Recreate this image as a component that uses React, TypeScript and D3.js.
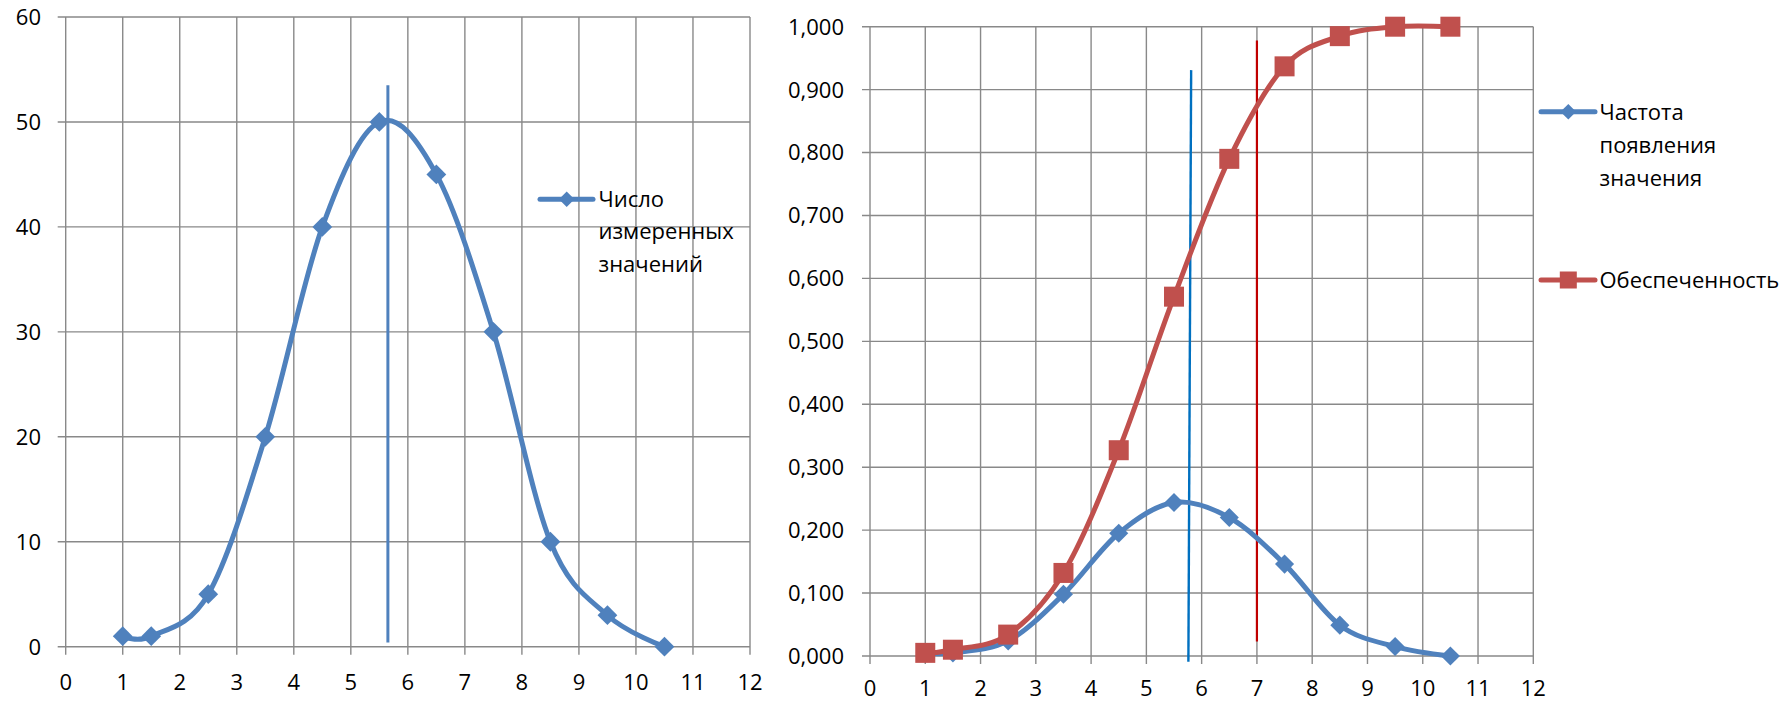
import React, { useEffect, useRef } from 'react';
import * as d3 from 'd3';

// Середины интервалов
const xValues = [1, 1.5, 2.5, 3.5, 4.5, 5.5, 6.5, 7.5, 8.5, 9.5, 10.5];
// Число измеренных значений
const counts = [1, 1, 5, 20, 40, 50, 45, 30, 10, 3, 0];
// Частота появления значения
const frequency = [0.005, 0.005, 0.024, 0.098, 0.195, 0.244, 0.220, 0.146, 0.049, 0.015, 0.000];
// Обеспеченность
const supply = [0.005, 0.010, 0.034, 0.132, 0.327, 0.571, 0.790, 0.937, 0.985, 1.000, 1.000];

const xTicks = [0, 1, 2, 3, 4, 5, 6, 7, 8, 9, 10, 11, 12];
const leftYTicks = [0, 10, 20, 30, 40, 50, 60];
const rightYTicks = [0, 0.1, 0.2, 0.3, 0.4, 0.5, 0.6, 0.7, 0.8, 0.9, 1.0];

// вертикальные отметки: [x, yFrom, yTo]
const leftMark = [5.65, 0.4, 53.5];
const rightBlueMark = [[5.81, 0.931], [5.76, -0.009]];
const rightRedMark = [7.0, 0.023, 0.978];

const leftLegend = ['Число', 'измеренных', 'значений'];
const rightLegend1 = ['Частота', 'появления', 'значения'];
const rightLegend2 = ['Обеспеченность'];

const BLUE = '#4F81BD';
const RED = '#C0504D';
const GRID = '#898989';
const FONT = '"Open Sans", sans-serif';

const App: React.FC = () => {
  const ref = useRef<SVGSVGElement>(null);

  useEffect(() => {
    const svg = d3.select(ref.current);
    svg.selectAll('*').remove();

    const commaFmt = d3.formatLocale({ decimal: ',', thousands: ' ', grouping: [3], currency: ['', ''] }).format('.3f');

    const diamond = (g: any, cx: number, cy: number, side: number, color: string) => {
      g.append('rect')
        .attr('x', -side / 2).attr('y', -side / 2)
        .attr('width', side).attr('height', side)
        .attr('fill', color)
        .attr('transform', `translate(${cx},${cy}) rotate(45)`);
    };
    const square = (g: any, cx: number, cy: number, side: number, color: string) => {
      g.append('rect')
        .attr('x', cx - side / 2).attr('y', cy - side / 2)
        .attr('width', side).attr('height', side)
        .attr('fill', color);
    };

    const drawFrame = (x: any, y: any, yTicks: number[], fmt: (v: number) => string, labelRight: number, labelOffset: number) => {
      const g = svg.append('g');
      const [x0, x1] = x.range();
      const [y0, y1] = y.range();
      // сетка
      g.selectAll('.vg').data(xTicks).enter().append('line')
        .attr('x1', d => x(d)).attr('x2', d => x(d))
        .attr('y1', y1).attr('y2', y0 + 8)
        .attr('stroke', GRID).attr('stroke-width', 1.4);
      g.selectAll('.hg').data(yTicks).enter().append('line')
        .attr('x1', x0 - 8).attr('x2', x1)
        .attr('y1', d => y(d)).attr('y2', d => y(d))
        .attr('stroke', GRID).attr('stroke-width', 1.4);
      // подписи
      g.selectAll('.yl').data(yTicks).enter().append('text')
        .attr('x', labelRight).attr('y', d => y(d)).attr('dy', '0.36em')
        .attr('text-anchor', 'end')
        .style('font-family', FONT).style('font-size', '22px').attr('fill', '#000')
        .text(d => fmt(d));
      g.selectAll('.xl').data(xTicks).enter().append('text')
        .attr('x', d => x(d)).attr('y', y0 + labelOffset).attr('dy', '0.36em')
        .attr('text-anchor', 'middle')
        .style('font-family', FONT).style('font-size', '22px').attr('fill', '#000')
        .text(d => String(d));
    };

    const line = (x: any, y: any) => d3.line<number>()
      .x((_, i) => x(xValues[i]))
      .y(d => y(d))
      .curve(d3.curveCardinal.tension(0));

    // ---- Левый график
    const xL = d3.scaleLinear().domain([0, 12]).range([65.7, 750]);
    const yL = d3.scaleLinear().domain([0, 60]).range([646.7, 17]);
    drawFrame(xL, yL, leftYTicks, d => String(d), 41, 35);

    svg.append('line')
      .attr('x1', xL(leftMark[0])).attr('x2', xL(leftMark[0]))
      .attr('y1', yL(leftMark[1])).attr('y2', yL(leftMark[2]))
      .attr('stroke', BLUE).attr('stroke-width', 3);

    svg.append('path').attr('d', line(xL, yL)(counts))
      .attr('fill', 'none').attr('stroke', BLUE).attr('stroke-width', 5).attr('stroke-linejoin', 'round');
    const mL = svg.append('g');
    counts.forEach((d, i) => diamond(mL, xL(xValues[i]), yL(d), 14, BLUE));

    const lg1 = svg.append('g');
    lg1.append('line').attr('x1', 540).attr('x2', 593).attr('y1', 199.3).attr('y2', 199.3)
      .attr('stroke', BLUE).attr('stroke-width', 5).attr('stroke-linecap', 'round');
    diamond(lg1, 566.7, 199.3, 11, BLUE);
    leftLegend.forEach((t, i) => {
      lg1.append('text').attr('x', 598.5).attr('y', 199.3 + i * 32.2).attr('dy', '0.36em')
        .style('font-family', FONT).style('font-size', '22px').attr('fill', '#000').text(t);
    });

    // ---- Правый график
    const xR = d3.scaleLinear().domain([0, 12]).range([870, 1533.3]);
    const yR = d3.scaleLinear().domain([0, 1]).range([656, 26.7]);
    drawFrame(xR, yR, rightYTicks, d => commaFmt(d), 844, 32);

    svg.append('line')
      .attr('x1', xR(rightBlueMark[0][0])).attr('x2', xR(rightBlueMark[1][0]))
      .attr('y1', yR(rightBlueMark[0][1])).attr('y2', yR(rightBlueMark[1][1]))
      .attr('stroke', '#0070C0').attr('stroke-width', 2.4);
    svg.append('line')
      .attr('x1', xR(rightRedMark[0])).attr('x2', xR(rightRedMark[0]))
      .attr('y1', yR(rightRedMark[1])).attr('y2', yR(rightRedMark[2]))
      .attr('stroke', '#C00000').attr('stroke-width', 2.2);

    svg.append('path').attr('d', line(xR, yR)(frequency))
      .attr('fill', 'none').attr('stroke', BLUE).attr('stroke-width', 5).attr('stroke-linejoin', 'round');
    svg.append('path').attr('d', line(xR, yR)(supply))
      .attr('fill', 'none').attr('stroke', RED).attr('stroke-width', 5).attr('stroke-linejoin', 'round');
    const mR = svg.append('g');
    frequency.forEach((d, i) => diamond(mR, xR(xValues[i]), yR(d), 13.5, BLUE));
    supply.forEach((d, i) => square(mR, xR(xValues[i]), yR(d), 20, RED));

    const lg2 = svg.append('g');
    lg2.append('line').attr('x1', 1541).attr('x2', 1595).attr('y1', 111.7).attr('y2', 111.7)
      .attr('stroke', BLUE).attr('stroke-width', 5).attr('stroke-linecap', 'round');
    diamond(lg2, 1568.3, 111.7, 11, BLUE);
    rightLegend1.forEach((t, i) => {
      lg2.append('text').attr('x', 1599.5).attr('y', 111.7 + i * 33.3).attr('dy', '0.36em')
        .style('font-family', FONT).style('font-size', '22px').attr('fill', '#000').text(t);
    });
    lg2.append('line').attr('x1', 1541).attr('x2', 1595).attr('y1', 280).attr('y2', 280)
      .attr('stroke', RED).attr('stroke-width', 5).attr('stroke-linecap', 'round');
    square(lg2, 1568.3, 280, 17, RED);
    rightLegend2.forEach((t, i) => {
      lg2.append('text').attr('x', 1599.5).attr('y', 280 + i * 33.3).attr('dy', '0.36em')
        .style('font-family', FONT).style('font-size', '22px').attr('fill', '#000').text(t);
    });
  }, []);

  return (
    <svg ref={ref} width={1791} height={702}
      style={{ position: 'absolute', left: 0, top: 0, background: '#fff' }} />
  );
};

export default App;
